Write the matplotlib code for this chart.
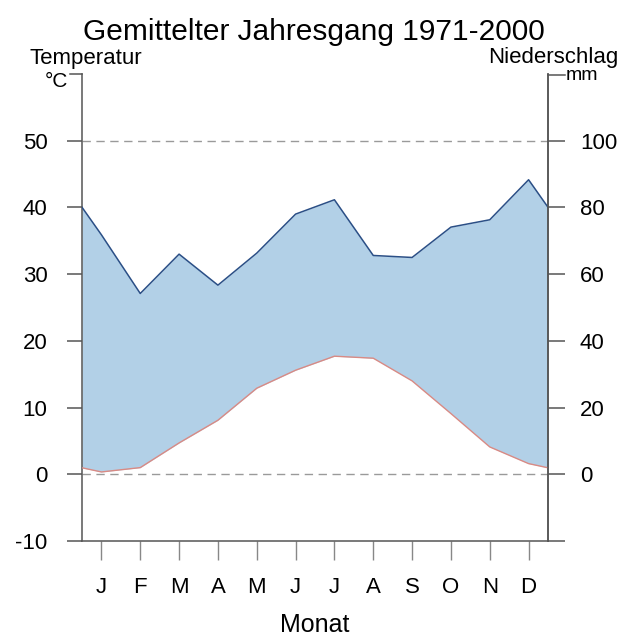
import matplotlib
matplotlib.use("Agg")
import matplotlib.pyplot as plt
import numpy as np

months = ['J', 'F', 'M', 'A', 'M', 'J', 'J', 'A', 'S', 'O', 'N', 'D']
temperature = [0.35, 1.0, 4.7, 8.1, 12.9, 15.6, 17.7, 17.4, 14.0, 9.1, 4.1, 1.6]
precipitation = [71.8, 54.2, 66.0, 56.7, 66.3, 78.0, 82.3, 65.6, 65.0, 74.1, 76.3, 88.3]

temp_ticks = [-10, 0, 10, 20, 30, 40, 50]
precip_ticks = [-20, 0, 20, 40, 60, 80, 100]
precip_labels = ['', '0', '20', '40', '60', '80', '100']

plt.rcParams['font.family'] = ['Liberation Sans', 'DejaVu Sans']

W, H = 623, 637
fig = plt.figure(figsize=(W / 100, H / 100), dpi=100)

def fx(x):
    return x / W

def fy(y):
    return 1 - y / H

x0, x1, ytop, ybot = 82, 548, 74, 541
ax = fig.add_axes([fx(x0), fy(ybot), fx(x1) - fx(x0), fy(ytop) - fy(ybot)])

# wrap-around edges (mean of December and January)
edge_t = (temperature[0] + temperature[-1]) / 2
edge_p = (precipitation[0] + precipitation[-1]) / 2
xs = np.concatenate([[0.5], np.arange(1, 13), [12.5]])
t = np.concatenate([[edge_t], temperature, [edge_t]])
p = np.concatenate([[edge_p], precipitation, [edge_p]]) / 2.0

ax.set_xlim(0.5, 12.5)
ax.set_ylim(-10, 60)

ax.fill_between(xs, t, p, where=p >= t, color='#b2d0e7', linewidth=0, zorder=1)
ax.plot(xs, p, color='#2b4f86', lw=1.1, zorder=3)
ax.plot(xs, t, color='#d98a84', lw=1.0, zorder=3)

for yv in (0, 50):
    ax.axhline(yv, color='#9a9a9a', lw=1.0, ls=(0, (6, 4)), zorder=0)

spc = '#555555'
for s in ('left', 'right', 'bottom'):
    ax.spines[s].set_color(spc)
    ax.spines[s].set_linewidth(1.1)
ax.spines['top'].set_visible(False)

ax.set_yticks(temp_ticks)
ax.set_yticklabels([str(v) for v in temp_ticks])
ax.tick_params(axis='y', direction='out', length=10.8, width=1.1, color=spc,
               labelsize=16, pad=14)
ax.set_xticks(np.arange(1, 13))
ax.set_xticklabels(months)
ax.tick_params(axis='x', direction='out', length=13.7, width=1.0, color='#888888',
               labelsize=16, pad=12)

ax2 = ax.twinx()
ax2.set_ylim(-20, 120)
ax2.set_yticks(precip_ticks)
ax2.set_yticklabels(precip_labels)
ax2.tick_params(axis='y', direction='out', length=12, width=1.1, color=spc,
                labelsize=16, pad=11)
for s in ('left', 'top', 'bottom'):
    ax2.spines[s].set_visible(False)
ax2.spines['right'].set_color(spc)
ax2.spines['right'].set_linewidth(1.1)

ax.set_xlabel('Monat', fontsize=18, labelpad=11)

# top bracket ticks with units
fig.add_artist(plt.Line2D([fx(70), fx(x0)], [fy(ytop), fy(ytop)], color=spc, lw=1.1))
fig.add_artist(plt.Line2D([fx(x1), fx(565)], [fy(75), fy(75)], color=spc, lw=1.1))

fig.text(fx(314), fy(40), 'Gemittelter Jahresgang 1971-2000', ha='center', va='baseline', fontsize=21.5)
fig.text(fx(86), fy(64), 'Temperatur', ha='center', va='baseline', fontsize=16)
fig.text(fx(68), fy(87), '°C', ha='right', va='baseline', fontsize=15)
fig.text(fx(553), fy(63), 'Niederschlag', ha='center', va='baseline', fontsize=16)
fig.text(fx(566), fy(80), 'mm', ha='left', va='baseline', fontsize=14)

fig.savefig('out.png', dpi=100)
